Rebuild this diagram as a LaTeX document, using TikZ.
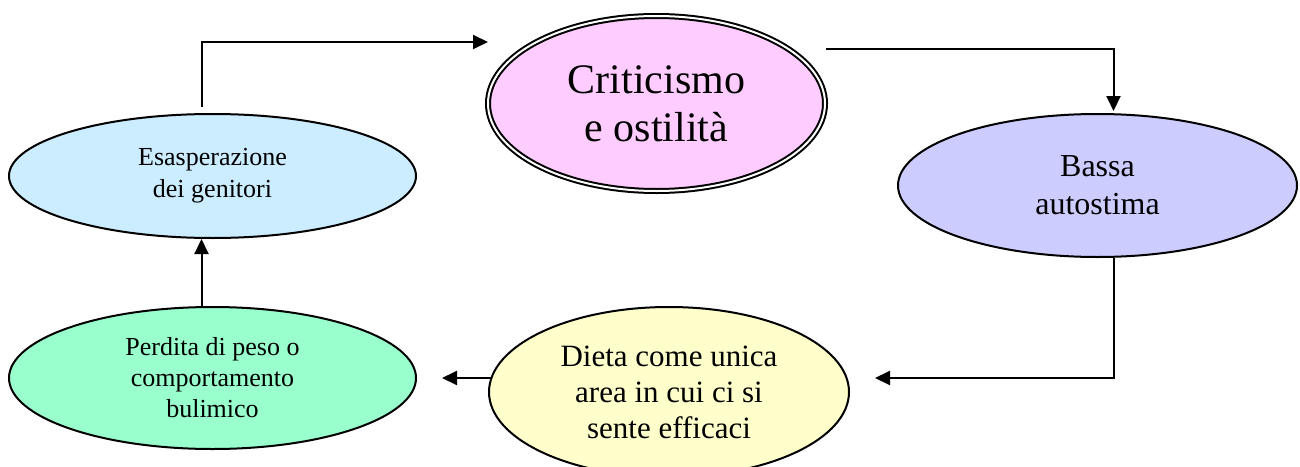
\documentclass[tikz,border=0pt]{standalone}
\usepackage{fontspec}
\setmainfont{Liberation Serif}
\usetikzlibrary{arrows.meta,shapes.geometric,positioning}

\begin{document}
\begin{tikzpicture}[x=0.5pt,y=-0.5pt]
			\definecolor{critColour}{RGB}{255, 204, 255}
			\definecolor{esaspColour}{RGB}{204, 236, 255}
			\definecolor{bassaColour}{RGB}{204, 204, 255}
			\definecolor{dietaColour}{RGB}{255, 255, 204}
			\definecolor{perdColour}{RGB}{153, 255, 204}
			\tikzstyle{bubble}=[ellipse, draw, line width=1pt, inner sep=0pt, align=center]
			\tikzstyle{link}=[-{Triangle[length=7.5pt,width=7pt]}, line width=1pt]

			\useasboundingbox (0,0) rectangle (1300,466);

			\node [bubble, double, double distance=1pt, fill=critColour, minimum width=168.5pt, minimum height=87.5pt, font=\fontsize{21}{24}\selectfont] (crit) at (656.5,103.5) {Criticismo\\e ostilità};
			\node [bubble, fill=esaspColour, minimum width=203.5pt, minimum height=62pt, font=\fontsize{13}{16}\selectfont] (esasp) at (212.5,176) {Esasperazione\\dei genitori};
			\node [bubble, fill=bassaColour, minimum width=199.5pt, minimum height=71.5pt, font=\fontsize{16}{19}\selectfont] (bassa) at (1097.5,185.5) {Bassa\\autostima};
			\node [bubble, fill=dietaColour, minimum width=180pt, minimum height=85pt, font=\fontsize{15.5}{18}\selectfont] (dieta) at (669,392) {Dieta come unica\\area in cui ci si\\sente efficaci};
			\node [bubble, fill=perdColour, minimum width=203.5pt, minimum height=71pt, font=\fontsize{13}{15.5}\selectfont] (perd) at (212.5,378) {Perdita di peso o\\comportamento\\bulimico};

			\coordinate (critIn) at (488,42);
			\coordinate (critOut) at (826,49);
			\coordinate (dietaIn) at (875,378);
			\coordinate (perdIn) at (442,378);
			\coordinate (perdTop) at ([xshift=-5.5pt]perd.north);

			\draw [link] ([xshift=-5.5pt,yshift=3pt]esasp.north) |- (critIn);
			\draw [link] (critOut) -| ([xshift=8pt,yshift=1pt]bassa.north);
			\draw [link] ([xshift=8pt]bassa.south) |- (dietaIn);
			\draw [link] ([xshift=2pt,yshift=7pt]dieta.west) -- (perdIn);
			\draw [link] (perdTop) -- (perdTop |- esasp.south);
		\end{tikzpicture}
\end{document}
